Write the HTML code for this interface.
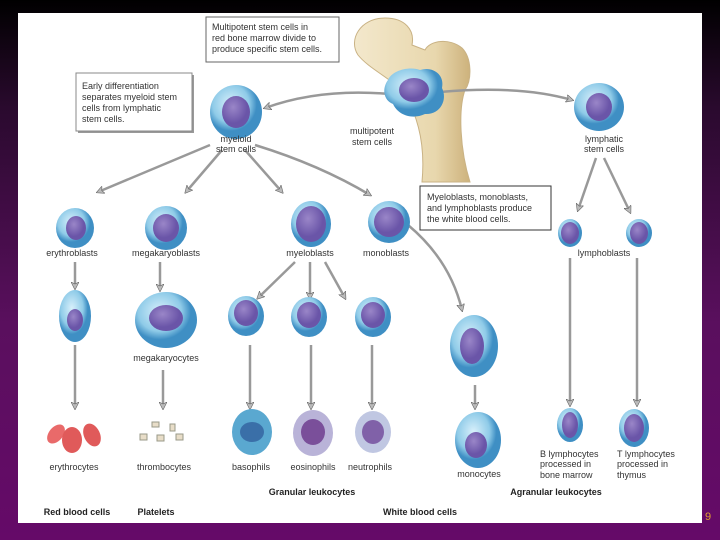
<!DOCTYPE html>
<html><head><meta charset="utf-8"><style>
body{margin:0;width:720px;height:540px;overflow:hidden;background:linear-gradient(#000 0%,#2a0a2e 20%,#5a0f5e 60%,#650a68 100%);font-family:"Liberation Sans",sans-serif}
svg{position:absolute;left:0;top:0}
</style></head><body>
<svg width="720" height="540" viewBox="0 0 720 540" font-family="Liberation Sans, sans-serif">
<defs>
<marker id="a" markerWidth="8" markerHeight="8" refX="6" refY="4" orient="auto" markerUnits="userSpaceOnUse"><path d="M0,0 L8,4 L0,8 L2,4z" fill="#bbb" stroke="#666" stroke-width="0.6"/></marker>
<radialGradient id="c" cx="40%" cy="35%"><stop offset="0" stop-color="#d8f0fb"/><stop offset="0.7" stop-color="#8fcbe8"/><stop offset="1" stop-color="#3f8fc4"/></radialGradient>
<radialGradient id="n" cx="40%" cy="35%"><stop offset="0" stop-color="#9a86c8"/><stop offset="1" stop-color="#6a55a8"/></radialGradient>
<linearGradient id="b" x1="0" x2="1"><stop offset="0" stop-color="#f3e8cc"/><stop offset="0.7" stop-color="#e8d7ad"/><stop offset="1" stop-color="#cdb27c"/></linearGradient>
</defs>
<rect x="18" y="13" width="684" height="510" fill="#fff"/>
<!-- bone -->
<path d="M358,55 C348,40 360,18 385,18 C405,18 415,30 412,45 L425,50 C430,40 450,38 462,48 C472,58 472,80 465,90 C458,110 460,150 470,182 L422,182 C425,150 420,120 405,95 C395,80 370,70 358,55z" fill="url(#b)" stroke="#c9b284" stroke-width="1"/>
<!-- text boxes -->
<rect x="206" y="17" width="133" height="45" fill="#fff" stroke="#666"/>
<g font-size="9" fill="#333"><text x="212" y="30">Multipotent stem cells in</text><text x="212" y="41">red bone marrow divide to</text><text x="212" y="52">produce specific stem cells.</text></g>
<rect x="78" y="75" width="116" height="58" fill="#999"/>
<rect x="76" y="73" width="116" height="58" fill="#fff" stroke="#888"/>
<g font-size="9" fill="#333"><text x="82" y="89">Early differentiation</text><text x="82" y="100">separates myeloid stem</text><text x="82" y="111">cells from lymphatic</text><text x="82" y="122">stem cells.</text></g>
<rect x="420" y="186" width="131" height="44" fill="#fff" stroke="#333"/>
<g font-size="9" fill="#333"><text x="427" y="200">Myeloblasts, monoblasts,</text><text x="427" y="211">and lymphoblasts produce</text><text x="427" y="222">the white blood cells.</text></g>
<!-- arrows -->
<g stroke="#999" stroke-width="2.5" fill="none" marker-end="url(#a)">
<path d="M390,94 Q320,88 265,108"/>
<path d="M440,92 Q520,85 572,100"/>
<path d="M210,145 L98,192"/><path d="M222,150 L186,192"/><path d="M245,150 L282,192"/><path d="M255,145 Q320,165 370,195"/>
<path d="M596,158 L578,210"/><path d="M604,158 L630,212"/>
<path d="M75,262 L75,288"/><path d="M160,262 L160,290"/>
<path d="M295,262 L258,298"/><path d="M310,262 L310,298"/><path d="M325,262 L345,298"/>
<path d="M408,225 Q450,260 462,310"/>
<path d="M75,345 L75,408"/><path d="M163,370 L163,408"/><path d="M250,345 L250,408"/><path d="M311,345 L311,408"/><path d="M372,345 L372,408"/><path d="M475,385 L475,408"/>
<path d="M570,258 L570,405"/><path d="M637,258 L637,405"/>
</g>
<!-- cells -->
<g>
<path d="M388,80 C392,70 410,66 420,70 C432,66 445,74 442,88 C448,100 440,115 425,114 C412,120 398,115 393,104 C383,100 382,88 388,80z" fill="url(#c)"/><ellipse cx="414" cy="90" rx="15" ry="12" fill="url(#n)"/>
<ellipse cx="236" cy="112" rx="26" ry="27" fill="url(#c)"/><ellipse cx="236" cy="112" rx="14" ry="16" fill="url(#n)"/>
<ellipse cx="599" cy="107" rx="25" ry="24" fill="url(#c)"/><ellipse cx="599" cy="107" rx="13" ry="14" fill="url(#n)"/>
<ellipse cx="75" cy="228" rx="19" ry="20" fill="url(#c)"/><ellipse cx="76" cy="228" rx="10" ry="12" fill="url(#n)"/>
<ellipse cx="166" cy="228" rx="21" ry="22" fill="url(#c)"/><ellipse cx="166" cy="228" rx="13" ry="14" fill="url(#n)"/>
<ellipse cx="311" cy="224" rx="20" ry="23" fill="url(#c)"/><ellipse cx="311" cy="224" rx="15" ry="18" fill="url(#n)"/>
<ellipse cx="389" cy="222" rx="21" ry="21" fill="url(#c)"/><ellipse cx="389" cy="222" rx="15" ry="15" fill="url(#n)"/>
<ellipse cx="570" cy="233" rx="12" ry="14" fill="url(#c)"/><ellipse cx="570" cy="233" rx="9" ry="11" fill="url(#n)"/>
<ellipse cx="639" cy="233" rx="13" ry="14" fill="url(#c)"/><ellipse cx="639" cy="233" rx="9" ry="11" fill="url(#n)"/>
<ellipse cx="75" cy="316" rx="16" ry="26" fill="url(#c)"/><ellipse cx="75" cy="320" rx="8" ry="11" fill="url(#n)"/>
<ellipse cx="166" cy="320" rx="31" ry="28" fill="url(#c)"/><ellipse cx="166" cy="318" rx="17" ry="13" fill="url(#n)"/>
<ellipse cx="246" cy="316" rx="18" ry="20" fill="url(#c)"/><ellipse cx="246" cy="313" rx="12" ry="13" fill="url(#n)"/>
<ellipse cx="309" cy="317" rx="18" ry="20" fill="url(#c)"/><ellipse cx="309" cy="315" rx="12" ry="13" fill="url(#n)"/>
<ellipse cx="373" cy="317" rx="18" ry="20" fill="url(#c)"/><ellipse cx="373" cy="315" rx="12" ry="13" fill="url(#n)"/>
<ellipse cx="474" cy="346" rx="24" ry="31" fill="url(#c)"/><ellipse cx="472" cy="346" rx="12" ry="18" fill="url(#n)"/>
<ellipse cx="252" cy="432" rx="20" ry="23" fill="#5aa8d0"/><ellipse cx="252" cy="432" rx="12" ry="10" fill="#3a6fa8"/>
<ellipse cx="313" cy="433" rx="20" ry="23" fill="#b9b3d8"/><ellipse cx="313" cy="432" rx="12" ry="13" fill="#7a4f9a"/>
<ellipse cx="373" cy="432" rx="18" ry="21" fill="#c0c7e2"/><ellipse cx="373" cy="432" rx="11" ry="12" fill="#8061a8"/>
<ellipse cx="478" cy="440" rx="23" ry="28" fill="url(#c)"/><ellipse cx="476" cy="445" rx="11" ry="13" fill="url(#n)"/>
<ellipse cx="570" cy="425" rx="13" ry="17" fill="url(#c)"/><ellipse cx="570" cy="425" rx="8" ry="13" fill="url(#n)"/>
<ellipse cx="634" cy="428" rx="15" ry="19" fill="url(#c)"/><ellipse cx="634" cy="428" rx="10" ry="14" fill="url(#n)"/>
<ellipse cx="56" cy="434" rx="7" ry="11" fill="#e96a6a" transform="rotate(40 56 434)"/><ellipse cx="72" cy="440" rx="10" ry="13" fill="#e05a5a"/><ellipse cx="92" cy="435" rx="8" ry="12" fill="#e05a5a" transform="rotate(-25 92 435)"/>
<g fill="#e8ddc8" stroke="#998"><rect x="152" y="422" width="7" height="5"/><rect x="170" y="424" width="5" height="7"/><rect x="140" y="434" width="7" height="6"/><rect x="157" y="435" width="7" height="6"/><rect x="176" y="434" width="7" height="6"/></g>
</g>
<!-- labels -->
<g font-size="9" fill="#333" text-anchor="middle">
<text x="236" y="142">myeloid</text><text x="236" y="152">stem cells</text>
<text x="372" y="134">multipotent</text><text x="372" y="145">stem cells</text>
<text x="604" y="142">lymphatic</text><text x="604" y="152">stem cells</text>
<text x="72" y="256">erythroblasts</text><text x="166" y="256">megakaryoblasts</text><text x="310" y="256">myeloblasts</text><text x="386" y="256">monoblasts</text><text x="604" y="256">lymphoblasts</text>
<text x="166" y="361">megakaryocytes</text>
<text x="74" y="470">erythrocytes</text><text x="164" y="470">thrombocytes</text><text x="251" y="470">basophils</text><text x="313" y="470">eosinophils</text><text x="370" y="470">neutrophils</text><text x="479" y="477">monocytes</text>
</g>
<g font-size="9" fill="#333"><text x="540" y="457">B lymphocytes</text><text x="540" y="467">processed in</text><text x="540" y="478">bone marrow</text><text x="617" y="457">T lymphocytes</text><text x="617" y="467">processed in</text><text x="617" y="478">thymus</text></g>
<g font-size="9" font-weight="bold" fill="#222" text-anchor="middle"><text x="312" y="495">Granular leukocytes</text><text x="556" y="495">Agranular leukocytes</text><text x="77" y="515">Red blood cells</text><text x="156" y="515">Platelets</text><text x="420" y="515">White blood cells</text></g>
<text x="705" y="520" font-size="11" fill="#e0a030">9</text>
</svg>
</body></html>
